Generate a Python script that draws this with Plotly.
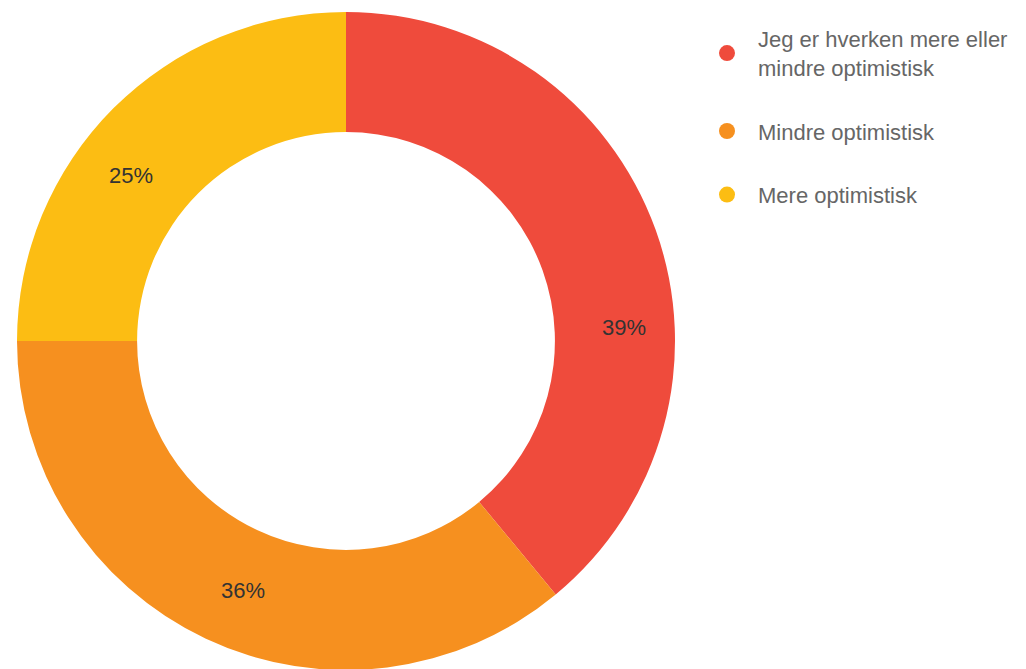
import plotly.graph_objects as go

categories = ["Jeg er hverken mere eller mindre optimistisk", "Mindre optimistisk", "Mere optimistisk"]
legend_labels = ["Jeg er hverken mere eller<br>mindre optimistisk", "Mindre optimistisk", "Mere optimistisk"]
values = [39, 36, 25]
colors = ["#EF4B3C", "#F6901F", "#FCBD13"]

W, H = 1026, 669
OFF = 8  # page body margin
# label anchor positions (screen px)
label_px = [(624, 327), (243, 590), (131, 175)]
label_pos = [((x - OFF) / W, 1 - (y - OFF) / H) for x, y in label_px]

cx, cy, R = 346 - OFF, 341 - OFF, 329
fig = go.Figure()
fig.add_trace(go.Pie(
    labels=categories, values=values, hole=0.635, sort=False, direction="clockwise",
    rotation=0, marker=dict(colors=colors, line=dict(color="white", width=0)),
    textinfo="none", showlegend=False, hoverinfo="label+percent",
    domain=dict(x=[(cx - R) / W, (cx + R) / W], y=[(H - cy - R) / H, (H - cy + R) / H]),
))
for i, (lab, col) in enumerate(zip(legend_labels, colors)):
    fig.add_trace(go.Scatter(
        x=[None], y=[None], mode="markers", name=lab, legendgroup=f"g{i}",
        marker=dict(color=col, size=16, symbol="circle"),
    ))
for v, (px, py) in zip(values, label_pos):
    fig.add_annotation(x=px, y=py, xref="paper", yref="paper", text=f"{v}%", showarrow=False,
                       xanchor="center", yanchor="middle",
                       font=dict(size=22, color="#333333", family="Liberation Sans"))

fig.update_layout(
    width=W, height=H, margin=dict(l=0, r=0, t=0, b=0),
    paper_bgcolor="white", plot_bgcolor="white",
    xaxis=dict(visible=False), yaxis=dict(visible=False),
    font=dict(family="Liberation Sans", size=22, color="#666666"),
    legend=dict(x=(696 - OFF) / W, y=1 - 10 / H, xanchor="left", yanchor="top",
                itemwidth=52, tracegroupgap=32, font=dict(size=22, color="#666666"),
                bgcolor="rgba(0,0,0,0)"),
)
fig.write_html("out.html")
